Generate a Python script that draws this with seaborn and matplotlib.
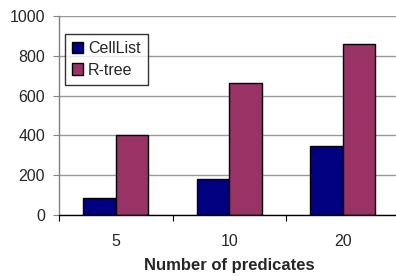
import matplotlib
matplotlib.use("Agg")
import matplotlib.pyplot as plt
import seaborn as sns
import pandas as pd

# DATA
categories = ["5", "10", "20"]
celllist = [85, 180, 345]
rtree = [400, 662, 860]
series_names = ["CellList", "R-tree"]
y_ticks = [0, 200, 400, 600, 800, 1000]

df = pd.DataFrame({
    "predicates": categories * 2,
    "value": celllist + rtree,
    "method": [series_names[0]] * 3 + [series_names[1]] * 3,
})

sns.set_style("white")
plt.rcParams["font.family"] = ["Liberation Sans", "DejaVu Sans"]

fig = plt.figure(figsize=(3.96, 2.76), dpi=100)
ax = fig.add_axes([59 / 396, 1 - 215 / 276, 340.5 / 396, 199 / 276])

sns.barplot(
    data=df, x="predicates", y="value", hue="method",
    order=categories, hue_order=series_names,
    palette=["#000080", "#993366"],
    width=0.57, edgecolor="black", linewidth=1.0, saturation=1,
    ax=ax,
)

ax.set_ylim(0, 1000)
ax.set_xlim(-0.5, 2.5)
ax.set_yticks(y_ticks)
ax.yaxis.grid(True, color="#999999", linewidth=1)
ax.set_axisbelow(True)

# category labels at centers, tick marks at the boundaries
ax.set_xticks([-0.5, 0.5, 1.5, 2.5])
ax.set_xticklabels([])
ax.set_xticks(range(len(categories)), minor=True)
ax.set_xticklabels(categories, minor=True)
ax.tick_params(axis="x", which="major", bottom=True, direction="out", length=4, width=0.8, color="black")
ax.tick_params(axis="x", which="minor", bottom=True, length=0, pad=14, labelsize=11.5)
ax.tick_params(axis="y", direction="out", length=4, width=0.8, color="#808080", labelsize=11.5, pad=6, left=True)

for side in ["top", "right"]:
    ax.spines[side].set_visible(False)
ax.spines["left"].set_color("#808080")
ax.spines["bottom"].set_color("black")
ax.spines["left"].set_linewidth(1)
ax.spines["bottom"].set_linewidth(1)

ax.set_xlabel("Number of predicates", fontsize=12, fontweight="bold", labelpad=6)
ax.set_ylabel("")

leg = ax.legend(
    loc="upper left", bbox_to_anchor=(6 / 340.5, 1 - 18 / 199),
    frameon=True, fancybox=False, edgecolor="black", fontsize=11.5,
    handlelength=0.7, handleheight=0.7, handletextpad=0.3,
    borderpad=0.45, labelspacing=0.4, borderaxespad=0,
)
leg.get_frame().set_linewidth(1)
leg._legend_box.sep = 4

fig.savefig("out.png", dpi=100)
